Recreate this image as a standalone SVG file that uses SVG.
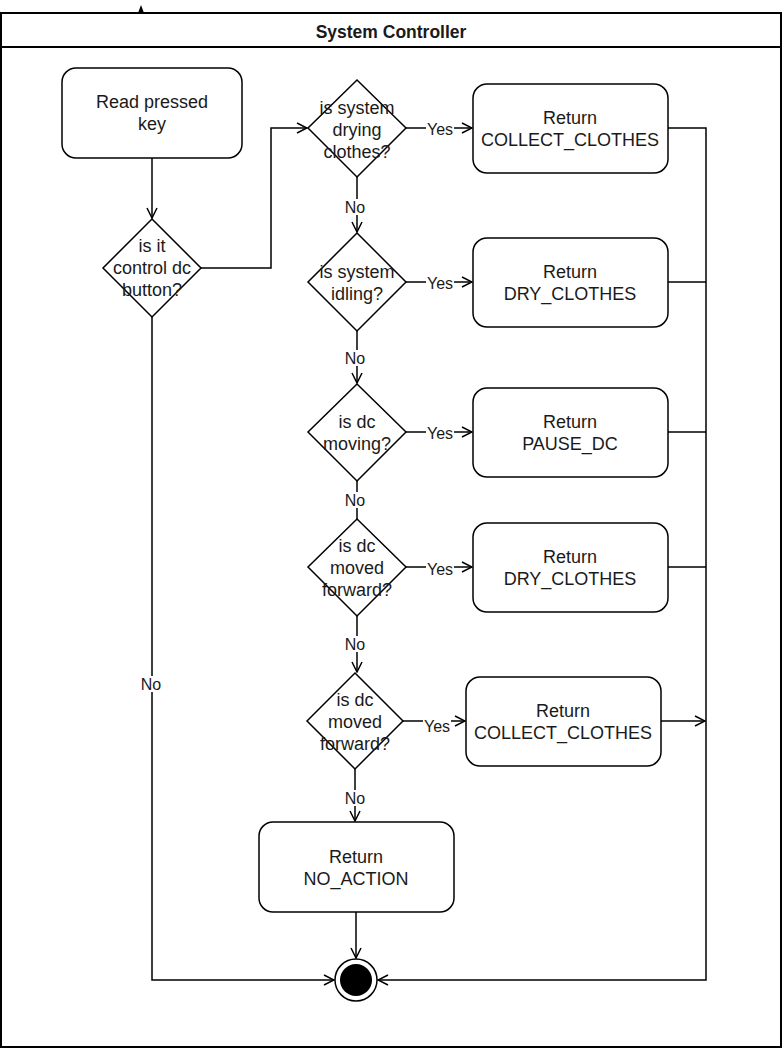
<svg xmlns="http://www.w3.org/2000/svg" width="783" height="1050" viewBox="0 0 783 1050">
<style>
.box{fill:#fff;stroke:#000;stroke-width:1.5}
.t{font-family:"Liberation Sans",Arial,sans-serif;font-size:18px;fill:#1a1a1a;text-anchor:middle}
.lbl{font-family:"Liberation Sans",Arial,sans-serif;font-size:16px;fill:#1a1a1a;text-anchor:middle}
.ln{fill:none;stroke:#000;stroke-width:1.5}
.bg{fill:#fff}
</style>
<defs>
<marker id="open" viewBox="0 0 12 12" refX="11" refY="6" markerWidth="12" markerHeight="12" markerUnits="userSpaceOnUse" orient="auto">
<path d="M1,1 L11,6 L1,11" fill="none" stroke="#000" stroke-width="1.5"/>
</marker>
</defs>
<rect width="783" height="1050" fill="#fff"/>
<g id="frame">
<rect x="1" y="13" width="780" height="1034" fill="#fff" stroke="#000" stroke-width="2"/>
<line x1="1" y1="47" x2="781" y2="47" stroke="#000" stroke-width="2"/>
<text x="391" y="38" class="t" style="font-weight:bold;font-size:17.5px">System Controller</text>
<path d="M138,13 L141,5 L144,13 Z" fill="#000"/>
</g>
<g id="connectors">
<path class="ln" d="M152,158 L152,218" marker-end="url(#open)"/>
<path class="ln" d="M201,268 L271,268 L271,128 L307,128" marker-end="url(#open)"/>
<path class="ln" d="M357,177 L357,232" marker-end="url(#open)"/>
<path class="ln" d="M406,128 L472,128" marker-end="url(#open)"/>
<path class="ln" d="M406,282 L472,282" marker-end="url(#open)"/>
<path class="ln" d="M357,331 L357,383" marker-end="url(#open)"/>
<path class="ln" d="M406,432 L472,432" marker-end="url(#open)"/>
<path class="ln" d="M357,481 L357,519"/>
<path class="ln" d="M406,567 L472,567" marker-end="url(#open)"/>
<path class="ln" d="M357,616 L357,672" marker-end="url(#open)"/>
<path class="ln" d="M403,721 L465,721" marker-end="url(#open)"/>
<path class="ln" d="M355,769 L355,821" marker-end="url(#open)"/>
<path class="ln" d="M356,912 L356,958" marker-end="url(#open)"/>
<path class="ln" d="M152,317 L152,980 L334,980" marker-end="url(#open)"/>
<path class="ln" d="M668,128 L706,128 L706,980 L378,980" marker-end="url(#open)"/>
<path class="ln" d="M668,282 L706,282"/>
<path class="ln" d="M668,432 L706,432"/>
<path class="ln" d="M668,567 L706,567"/>
<path class="ln" d="M661,721 L705,721" marker-end="url(#open)"/>
<rect class="bg" x="426" y="120" width="28" height="16"/><text class="lbl" x="440" y="135">Yes</text>
<rect class="bg" x="426" y="274" width="28" height="16"/><text class="lbl" x="440" y="289">Yes</text>
<rect class="bg" x="426" y="424" width="28" height="16"/><text class="lbl" x="440" y="439">Yes</text>
<rect class="bg" x="426" y="560" width="28" height="16"/><text class="lbl" x="440" y="575">Yes</text>
<rect class="bg" x="423" y="717" width="28" height="16"/><text class="lbl" x="437" y="732">Yes</text>
<rect class="bg" x="344" y="199" width="22" height="16"/><text class="lbl" x="355" y="213">No</text>
<rect class="bg" x="344" y="350" width="22" height="16"/><text class="lbl" x="355" y="364">No</text>
<rect class="bg" x="344" y="492" width="22" height="16"/><text class="lbl" x="355" y="506">No</text>
<rect class="bg" x="344" y="636" width="22" height="16"/><text class="lbl" x="355" y="650">No</text>
<rect class="bg" x="344" y="790" width="22" height="16"/><text class="lbl" x="355" y="804">No</text>
<rect class="bg" x="140" y="676" width="22" height="16"/><text class="lbl" x="151" y="690">No</text>
</g>
<g id="read-key">
<rect class="box" x="62" y="68" width="180" height="90" rx="14"/>
<text class="t" x="152" y="108">Read pressed</text>
<text class="t" x="152" y="130">key</text>
</g>
<g id="dec-control">
<path class="box" d="M152,219 L201,268 L152,317 L103,268 Z"/>
<text class="t" x="152" y="252">is it</text>
<text class="t" x="152" y="274">control dc</text>
<text class="t" x="152" y="296">button?</text>
</g>
<g id="dec-drying">
<path class="box" d="M357,80 L406,128 L357,177 L308,128 Z"/>
<text class="t" x="357" y="114">is system</text>
<text class="t" x="357" y="136">drying</text>
<text class="t" x="357" y="158">clothes?</text>
</g>
<g id="ret-collect-1">
<rect class="box" x="473" y="84" width="195" height="89" rx="14"/>
<text class="t" x="570" y="124">Return</text>
<text class="t" x="570" y="146">COLLECT_CLOTHES</text>
</g>
<g id="dec-idling">
<path class="box" d="M357,233 L406,282 L357,331 L308,282 Z"/>
<text class="t" x="357" y="278">is system</text>
<text class="t" x="357" y="300">idling?</text>
</g>
<g id="ret-dry-1">
<rect class="box" x="473" y="238" width="195" height="89" rx="14"/>
<text class="t" x="570" y="278">Return</text>
<text class="t" x="570" y="300">DRY_CLOTHES</text>
</g>
<g id="dec-moving">
<path class="box" d="M357,384 L406,432 L357,481 L308,432 Z"/>
<text class="t" x="357" y="428">is dc</text>
<text class="t" x="357" y="450">moving?</text>
</g>
<g id="ret-pause">
<rect class="box" x="473" y="388" width="195" height="89" rx="14"/>
<text class="t" x="570" y="428">Return</text>
<text class="t" x="570" y="450">PAUSE_DC</text>
</g>
<g id="dec-forward-1">
<path class="box" d="M357,519 L406,567 L357,616 L308,567 Z"/>
<text class="t" x="357" y="552">is dc</text>
<text class="t" x="357" y="574">moved</text>
<text class="t" x="357" y="596">forward?</text>
</g>
<g id="ret-dry-2">
<rect class="box" x="473" y="523" width="195" height="89" rx="14"/>
<text class="t" x="570" y="563">Return</text>
<text class="t" x="570" y="585">DRY_CLOTHES</text>
</g>
<g id="dec-forward-2">
<path class="box" d="M355,673 L403,721 L355,769 L307,721 Z"/>
<text class="t" x="355" y="706">is dc</text>
<text class="t" x="355" y="728">moved</text>
<text class="t" x="355" y="750">forward?</text>
</g>
<g id="ret-collect-2">
<rect class="box" x="466" y="677" width="195" height="89" rx="14"/>
<text class="t" x="563" y="717">Return</text>
<text class="t" x="563" y="739">COLLECT_CLOTHES</text>
</g>
<g id="ret-noaction">
<rect class="box" x="259" y="822" width="195" height="90" rx="14"/>
<text class="t" x="356" y="863">Return</text>
<text class="t" x="356" y="885">NO_ACTION</text>
</g>
<g id="end">
<circle cx="356" cy="980" r="21" fill="#fff" stroke="#000" stroke-width="1.5"/>
<circle cx="356" cy="980" r="16" fill="#000"/>
</g>
</svg>
